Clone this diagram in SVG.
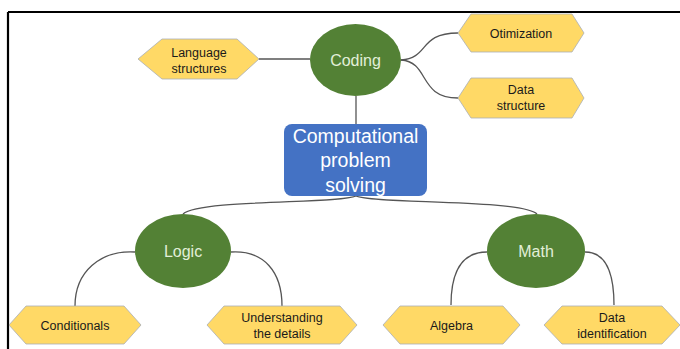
<svg xmlns="http://www.w3.org/2000/svg" width="680" height="349" viewBox="0 0 680 349">
  <style>
    .frame { fill: none; stroke: #000; stroke-width: 2.2; }
    .link { fill: none; stroke: #555; stroke-width: 1.3; }
    .hex { fill: #FFD966; stroke: #A9AEB8; stroke-width: 0.8; }
    .topic { fill: #538135; }
    .root { fill: #4472C4; }
    .hex-text { font-family: "Liberation Sans", Arial, sans-serif; font-size: 12.5px; fill: #1a1a1a; text-anchor: middle; }
    .topic-text { font-family: "Liberation Sans", Arial, sans-serif; font-size: 16px; fill: #E2EFD9; text-anchor: middle; }
    .root-text { font-family: "Liberation Sans", Arial, sans-serif; font-size: 19.5px; fill: #ffffff; text-anchor: middle; }
  </style>

  <!-- outer frame: top and left edges -->
  <path class="frame" d="M8,12 H680 M8,12 V349"/>

  <g id="connectors">
    <path class="link" d="M259,59 H310"/>
    <path class="link" d="M356,96 V124"/>
    <path class="link" d="M401,60 C430,58 418,33 458,33"/>
    <path class="link" d="M401,60 C430,62 418,98 458,98"/>
    <path class="link" d="M356,196 C340,204 200,199 183,214"/>
    <path class="link" d="M356,196 C372,204 520,199 537,214"/>
    <path class="link" d="M135,252 C100,250 75,272 75,306"/>
    <path class="link" d="M231,252 C264,250 282,272 282,306"/>
    <path class="link" d="M487,252 C462,252 451,272 451,305"/>
    <path class="link" d="M585,252 C606,252 614,272 614,305"/>
  </g>

  <g id="language-structures">
    <polygon class="hex" points="138,59 162,39 237,39 259,59 237,79 162,79"/>
    <text class="hex-text" x="199" y="56.5">Language</text>
    <text class="hex-text" x="199" y="72.5">structures</text>
  </g>

  <g id="coding">
    <ellipse class="topic" cx="355.5" cy="60" rx="45.5" ry="36"/>
    <text class="topic-text" x="355.5" y="66">Coding</text>
  </g>

  <g id="otimization">
    <polygon class="hex" points="458,33 471,14 572,14 584,33 572,52 471,52"/>
    <text class="hex-text" x="521" y="37.5">Otimization</text>
  </g>

  <g id="data-structure">
    <polygon class="hex" points="458,98 471,78 572,78 584,98 572,118 471,118"/>
    <text class="hex-text" x="521" y="94">Data</text>
    <text class="hex-text" x="521" y="110">structure</text>
  </g>

  <g id="computational-problem-solving">
    <rect class="root" x="284" y="124" width="143" height="72" rx="8"/>
    <text class="root-text" x="355.5" y="143">Computational</text>
    <text class="root-text" x="355.5" y="167">problem</text>
    <text class="root-text" x="355.5" y="191.5">solving</text>
  </g>

  <g id="logic">
    <ellipse class="topic" cx="183" cy="251" rx="48" ry="37"/>
    <text class="topic-text" x="183" y="257">Logic</text>
  </g>

  <g id="math">
    <ellipse class="topic" cx="536" cy="251" rx="49" ry="37"/>
    <text class="topic-text" x="536" y="257">Math</text>
  </g>

  <g id="conditionals">
    <polygon class="hex" points="9,325 26,306 124,306 141,325 124,344 26,344"/>
    <text class="hex-text" x="75" y="329.5">Conditionals</text>
  </g>

  <g id="understanding-the-details">
    <polygon class="hex" points="207,325 224,306 340,306 357,325 340,344 224,344"/>
    <text class="hex-text" x="282" y="321.5">Understanding</text>
    <text class="hex-text" x="282" y="337.5">the details</text>
  </g>

  <g id="algebra">
    <polygon class="hex" points="383,325 400,306 503,306 520,325 503,344 400,344"/>
    <text class="hex-text" x="451.5" y="329.5">Algebra</text>
  </g>

  <g id="data-identification">
    <polygon class="hex" points="544,325 562,306 662,306 680,325 662,344 562,344"/>
    <text class="hex-text" x="612" y="321.5">Data</text>
    <text class="hex-text" x="612" y="337.5">identification</text>
  </g>
</svg>
